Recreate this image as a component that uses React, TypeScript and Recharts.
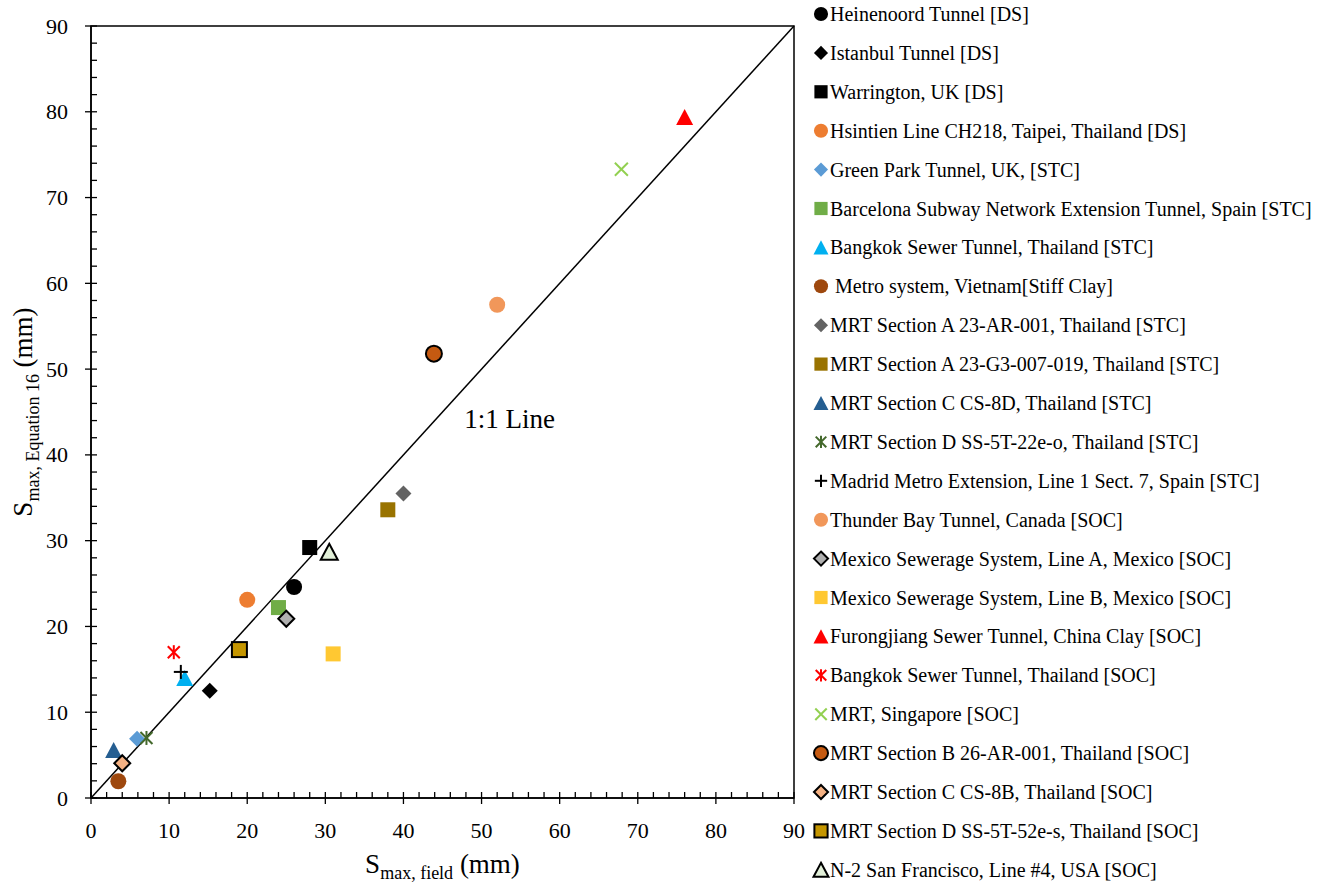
import {
  ScatterChart,
  Scatter,
  XAxis,
  YAxis,
  ReferenceLine,
  ReferenceArea,
  ReferenceDot,
} from "recharts";

const FONT = '"Liberation Serif", "Times New Roman", serif';

const siteNames = [
  "Heinenoord Tunnel [DS]",
  "Istanbul Tunnel [DS]",
  "Warrington, UK [DS]",
  "Hsintien Line CH218, Taipei, Thailand [DS]",
  "Green Park Tunnel, UK, [STC]",
  "Barcelona Subway Network Extension Tunnel, Spain [STC]",
  "Bangkok Sewer Tunnel, Thailand [STC]",
  " Metro system, Vietnam[Stiff Clay]",
  "MRT Section A 23-AR-001, Thailand [STC]",
  "MRT Section A 23-G3-007-019, Thailand [STC]",
  "MRT Section C CS-8D, Thailand [STC]",
  "MRT Section D SS-5T-22e-o, Thailand [STC]",
  "Madrid Metro Extension, Line 1 Sect. 7, Spain [STC]",
  "Thunder Bay Tunnel, Canada [SOC]",
  "Mexico Sewerage System, Line A, Mexico [SOC]",
  "Mexico Sewerage System, Line B, Mexico [SOC]",
  "Furongjiang Sewer Tunnel, China Clay [SOC]",
  "Bangkok Sewer Tunnel, Thailand [SOC]",
  "MRT, Singapore [SOC]",
  "MRT Section B 26-AR-001, Thailand [SOC]",
  "MRT Section C CS-8B, Thailand [SOC]",
  "MRT Section D SS-5T-52e-s, Thailand [SOC]",
  "N-2 San Francisco, Line #4, USA [SOC]",
];

// S max measured in the field (mm)
const fieldSettlement = [
  26, 15.2, 28, 20, 5.9, 24, 12, 3.5, 40, 38, 2.9, 7.1, 11.5, 52, 25, 31, 76,
  10.6, 67.9, 43.9, 4, 19, 30.5,
];

// S max from equation 16 (mm)
const predictedSettlement = [
  24.6, 12.5, 29.2, 23.1, 6.9, 22.2, 14, 1.95, 35.5, 33.6, 5.6, 7, 14.7, 57.5,
  20.9, 16.8, 79.4, 17, 73.3, 51.8, 4.05, 17.3, 28.7,
];

const majorTicks = [0, 10, 20, 30, 40, 50, 60, 70, 80, 90];
const allTicks = Array.from({ length: 46 }, (_, i) => i * 2);

type Kind = "circle" | "diamond" | "square" | "triangle" | "plus" | "cross" | "asterisk";

interface MarkerStyle {
  kind: Kind;
  fill: string;
  stroke?: string;
}

const markerStyles: MarkerStyle[] = [
  { kind: "circle", fill: "#000000" },
  { kind: "diamond", fill: "#000000" },
  { kind: "square", fill: "#000000" },
  { kind: "circle", fill: "#ED7D31" },
  { kind: "diamond", fill: "#5B9BD5" },
  { kind: "square", fill: "#70AD47" },
  { kind: "triangle", fill: "#00B0F0" },
  { kind: "circle", fill: "#9E480E" },
  { kind: "diamond", fill: "#636363" },
  { kind: "square", fill: "#997300" },
  { kind: "triangle", fill: "#255E91" },
  { kind: "asterisk", fill: "#43682B" },
  { kind: "plus", fill: "#000000" },
  { kind: "circle", fill: "#F1975A" },
  { kind: "diamond", fill: "#B0B0B0", stroke: "#000000" },
  { kind: "square", fill: "#FFC832" },
  { kind: "triangle", fill: "#FF0000" },
  { kind: "asterisk", fill: "#FF0000" },
  { kind: "cross", fill: "#92D050" },
  { kind: "circle", fill: "#C55A11", stroke: "#000000" },
  { kind: "diamond", fill: "#F4B183", stroke: "#000000" },
  { kind: "square", fill: "#C59600", stroke: "#000000" },
  { kind: "triangle", fill: "#E2F0D9", stroke: "#000000" },
];

function Marker({
  kind,
  fill,
  stroke,
  cx,
  cy,
  size = 1,
}: MarkerStyle & { cx: number; cy: number; size?: number }) {
  const sw = stroke ? 2 : 0;
  const s = size;
  switch (kind) {
    case "circle":
      return <circle cx={cx} cy={cy} r={8 * s} fill={fill} stroke={stroke} strokeWidth={sw} />;
    case "diamond": {
      const d = 8 * s;
      return (
        <polygon
          points={`${cx},${cy - d} ${cx + d},${cy} ${cx},${cy + d} ${cx - d},${cy}`}
          fill={fill}
          stroke={stroke}
          strokeWidth={sw}
        />
      );
    }
    case "square": {
      const h = 7.5 * s;
      return (
        <rect x={cx - h} y={cy - h} width={2 * h} height={2 * h} fill={fill} stroke={stroke} strokeWidth={sw} />
      );
    }
    case "triangle": {
      const w = 8.5 * s;
      const t = 8 * s;
      return (
        <polygon
          points={`${cx},${cy - t} ${cx + w},${cy + t} ${cx - w},${cy + t}`}
          fill={fill}
          stroke={stroke}
          strokeWidth={sw}
        />
      );
    }
    case "plus": {
      const a = 7 * s;
      return (
        <g stroke={fill} strokeWidth={2}>
          <line x1={cx - a} y1={cy} x2={cx + a} y2={cy} />
          <line x1={cx} y1={cy - a} x2={cx} y2={cy + a} />
        </g>
      );
    }
    case "cross": {
      const a = 6.5 * s;
      return (
        <g stroke={fill} strokeWidth={2}>
          <line x1={cx - a} y1={cy - a} x2={cx + a} y2={cy + a} />
          <line x1={cx - a} y1={cy + a} x2={cx + a} y2={cy - a} />
        </g>
      );
    }
    case "asterisk": {
      const a = 6 * s;
      const v = 7 * s;
      return (
        <g stroke={fill} strokeWidth={2}>
          <line x1={cx - a} y1={cy - a} x2={cx + a} y2={cy + a} />
          <line x1={cx - a} y1={cy + a} x2={cx + a} y2={cy - a} />
          <line x1={cx} y1={cy - v} x2={cx} y2={cy + v} />
        </g>
      );
    }
  }
  return null;
}

function XTick({ x, y, payload }: any) {
  const v = payload.value;
  const major = majorTicks.includes(v);
  return (
    <g>
      <line x1={x} y1={y - 6} x2={x} y2={major ? y + 6 : y} stroke="#000" strokeWidth={1.3} />
      {major && (
        <text x={x} y={y + 32} textAnchor="middle" dominantBaseline="central" fontSize={22} fontFamily={FONT} fill="#000">
          {v}
        </text>
      )}
    </g>
  );
}

function YTick({ x, y, payload }: any) {
  const v = payload.value;
  const major = majorTicks.includes(v);
  return (
    <g>
      <line x1={major ? x - 6 : x} y1={y} x2={x + 6} y2={y} stroke="#000" strokeWidth={1.3} />
      {major && (
        <text x={x - 23} y={y} textAnchor="end" dominantBaseline="central" fontSize={22} fontFamily={FONT} fill="#000">
          {v}
        </text>
      )}
    </g>
  );
}

function XTitle({ viewBox }: any) {
  const cx = viewBox.x + viewBox.width / 2;
  return (
    <text x={cx} y={viewBox.y + 75} textAnchor="middle" fontFamily={FONT} fill="#000" fontSize={27}>
      <tspan>S</tspan>
      <tspan fontSize={18} dy={6}>max, field</tspan>
      <tspan dy={-6}> (mm)</tspan>
    </text>
  );
}

function YTitle({ viewBox }: any) {
  const cy = viewBox.y + viewBox.height / 2;
  const bx = 32;
  return (
    <text
      x={bx}
      y={cy}
      transform={`rotate(-90, ${bx}, ${cy})`}
      textAnchor="middle"
      fontFamily={FONT}
      fill="#000"
      fontSize={27}
    >
      <tspan>S</tspan>
      <tspan fontSize={18} dy={7}>max, Equation 16</tspan>
      <tspan dy={-7}> (mm)</tspan>
    </text>
  );
}

function LegendPanel() {
  return (
    <svg
      width={1324}
      height={884}
      style={{ position: "absolute", left: 0, top: 0, pointerEvents: "none" }}
    >
      {siteNames.map((name, i) => {
        const cy = 14 + i * 38.9;
        return (
          <g key={name}>
            <Marker {...markerStyles[i]} cx={821} cy={cy} size={0.88} />
            <text
              x={830}
              y={cy}
              dominantBaseline="central"
              fontSize={20}
              fontFamily={FONT}
              fill="#000"
              style={{ whiteSpace: "pre" }}
            >
              {name}
            </text>
          </g>
        );
      })}
    </svg>
  );
}

export default function App() {
  return (
    <div style={{ position: "absolute", left: 0, top: 0, width: 1324, height: 884, background: "#fff" }}>
      <ScatterChart
        width={1324}
        height={884}
        margin={{ top: 26, right: 530, bottom: 26, left: 31 }}
      >
        <XAxis
          type="number"
          dataKey="x"
          domain={[0, 90]}
          ticks={allTicks}
          interval={0}
          tickSize={0}
          tickMargin={0}
          tickLine={false}
          height={60}
          axisLine={{ stroke: "#000", strokeWidth: 1.5 }}
          tick={<XTick />}
          label={{ content: (p: any) => <XTitle {...p} /> }}
        />
        <YAxis
          type="number"
          dataKey="y"
          domain={[0, 90]}
          ticks={allTicks}
          interval={0}
          tickSize={0}
          tickMargin={0}
          tickLine={false}
          width={60}
          axisLine={{ stroke: "#000", strokeWidth: 1.5 }}
          tick={<YTick />}
          label={{ content: (p: any) => <YTitle {...p} /> }}
        />
        <ReferenceArea x1={0} x2={90} y1={0} y2={90} fill="none" stroke="#000" strokeWidth={1.5} fillOpacity={0} />
        <ReferenceLine
          segment={[
            { x: 0, y: 0 },
            { x: 90, y: 90 },
          ]}
          stroke="#000"
          strokeWidth={1.5}
        />
        <ReferenceDot
          x={53.6}
          y={44.3}
          r={0}
          fill="none"
          stroke="none"
          label={{ value: "1:1 Line", position: "center", fontSize: 27, fontFamily: FONT, fill: "#000" }}
        />
        {siteNames.map((name, i) => (
          <Scatter
            key={name}
            name={name}
            data={[{ x: fieldSettlement[i], y: predictedSettlement[i] }]}
            isAnimationActive={false}
            shape={(props: any) => <Marker {...markerStyles[i]} cx={props.cx} cy={props.cy} />}
          />
        ))}
      </ScatterChart>
      <LegendPanel />
    </div>
  );
}
